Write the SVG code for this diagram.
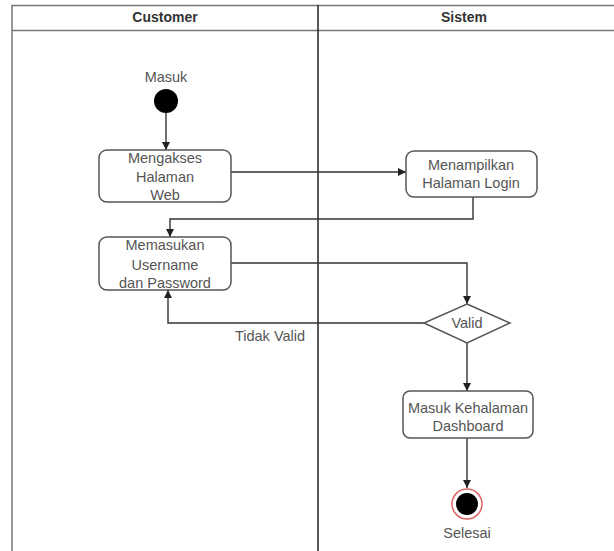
<svg xmlns="http://www.w3.org/2000/svg" width="614" height="551" viewBox="0 0 614 551">
<style>
.frame{fill:none;stroke:#777;stroke-width:1.5}
.div{stroke:#222;stroke-width:1.5}
.hdr{font-family:"Liberation Sans",Arial,sans-serif;font-size:14px;font-weight:bold;fill:#333;text-anchor:middle}
.lbl{font-family:"Liberation Sans",Arial,sans-serif;font-size:14.5px;fill:#555;text-anchor:middle}
.box{fill:#fff;stroke:#555;stroke-width:1.5}
.edge{fill:none;stroke:#333;stroke-width:1.4}
</style>
<defs>
<marker id="ah" viewBox="0 0 10 10" refX="10" refY="5" markerWidth="8" markerHeight="8" markerUnits="userSpaceOnUse" orient="auto">
<path d="M0,0 L10,5 L0,10 Z" fill="#222"/>
</marker>
</defs>
<rect width="614" height="551" fill="#fff"/>
<g id="pool">
<path class="frame" d="M12,551 V5.5 H614"/>
<line class="frame" x1="12" y1="30.5" x2="614" y2="30.5"/>
<line class="div" x1="318" y1="5" x2="318" y2="551"/>
<text class="hdr" x="165" y="22">Customer</text>
<text class="hdr" x="464" y="22">Sistem</text>
</g>
<g id="edges">
<path class="edge" d="M166,113 V150" marker-end="url(#ah)"/>
<path class="edge" d="M231,172 H406" marker-end="url(#ah)"/>
<path class="edge" d="M473,197 V219 H170 V237" marker-end="url(#ah)"/>
<path class="edge" d="M231,263 H467 V304" marker-end="url(#ah)"/>
<path class="edge" d="M424,323 H168 V290" marker-end="url(#ah)"/>
<path class="edge" d="M467,343 V391" marker-end="url(#ah)"/>
<path class="edge" d="M467,438 V488" marker-end="url(#ah)"/>
</g>
<g id="start">
<text class="lbl" x="166" y="82">Masuk</text>
<circle cx="166" cy="101" r="12" fill="#000"/>
</g>
<g id="n1">
<rect class="box" x="99" y="150" width="132" height="52" rx="8"/>
<text class="lbl" x="165" y="163">Mengakses</text>
<text class="lbl" x="165" y="182">Halaman</text>
<text class="lbl" x="165" y="200">Web</text>
</g>
<g id="n2">
<rect class="box" x="406" y="151" width="131" height="46" rx="8"/>
<text class="lbl" x="471" y="170">Menampilkan</text>
<text class="lbl" x="471" y="188">Halaman Login</text>
</g>
<g id="n3">
<rect class="box" x="99" y="237" width="132" height="53" rx="8"/>
<text class="lbl" x="165" y="250">Memasukan</text>
<text class="lbl" x="165" y="270">Username</text>
<text class="lbl" x="165" y="288">dan Password</text>
</g>
<g id="valid">
<polygon class="box" points="467,304 510,323 467,343 424,323"/>
<text class="lbl" x="467" y="328">Valid</text>
</g>
<text class="lbl" x="270" y="341">Tidak Valid</text>
<g id="n4">
<rect class="box" x="403" y="391" width="130" height="47" rx="7"/>
<text class="lbl" x="468" y="413">Masuk Kehalaman</text>
<text class="lbl" x="468" y="431">Dashboard</text>
</g>
<g id="end">
<circle cx="467" cy="504" r="15" fill="#fff" stroke="#e06666" stroke-width="1.5"/>
<circle cx="467" cy="504" r="11" fill="#000"/>
<text class="lbl" x="467" y="538">Selesai</text>
</g>
</svg>
